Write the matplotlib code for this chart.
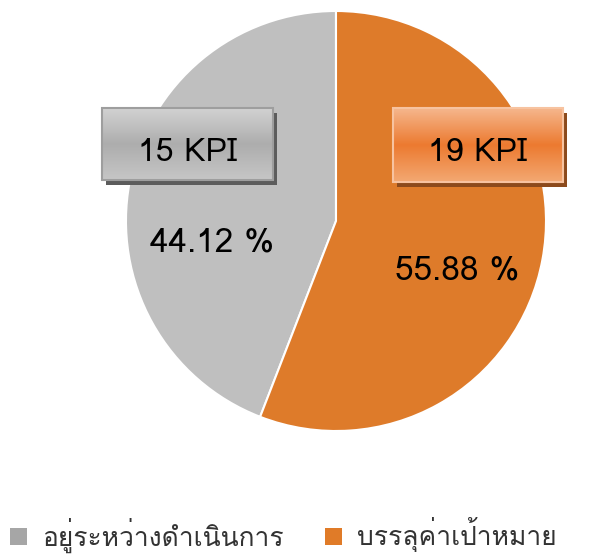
import matplotlib
matplotlib.use("Agg")
import matplotlib.pyplot as plt
import numpy as np
from matplotlib import font_manager
from matplotlib.ft2font import FT2Font
from matplotlib.patches import Rectangle

# data
labels = ["อยู่ระหว่างดำเนินการ", "บรรลุค่าเป้าหมาย"]
kpi_counts = [15, 19]
percents = [44.12, 55.88]
colors = ["#BFBFBF", "#DE7B2A"]
legend_colors = ["#A6A6A6", "#E07B28"]


def find_thai_font():
    found = []
    for f in font_manager.fontManager.ttflist:
        try:
            cmap = FT2Font(f.fname).get_charmap()
        except Exception:
            continue
        if 0x0E2D in cmap and 0x0E14 in cmap:
            found.append(f.name)
    return found


thai_fonts = find_thai_font()
fams = (thai_fonts[:1] if thai_fonts else []) + ["DejaVu Sans"]
plt.rcParams['font.family'] = fams

W, H = 609, 555
fig = plt.figure(figsize=(W / 100, H / 100), dpi=100)
ax = fig.add_axes([0, 0, 1, 1])

def Y(y):  # image row -> data y
    return H - y

ax.pie(kpi_counts, colors=colors, startangle=90, counterclock=True,
       explode=[0.022, 0], center=(336, Y(221)), radius=210,
       wedgeprops=dict(edgecolor='white', linewidth=1.5))


def grad_box(x0, x1, y0, y1, stops, edge, shadow, text):
    # shadow
    ax.add_patch(Rectangle((x0 + 4, Y(y1) - 5), x1 - x0, y1 - y0,
                           facecolor=shadow, edgecolor='none', zorder=3))
    n = 64
    t = np.linspace(0, 1, n)
    pos = np.array([s[0] for s in stops])
    cols = np.array([matplotlib.colors.to_rgb(s[1]) for s in stops])
    img = np.stack([np.interp(t, pos, cols[:, k]) for k in range(3)], axis=-1)
    img = img[:, None, :]
    ax.imshow(img, extent=(x0, x1, Y(y1), Y(y0)), origin='upper',
              aspect='auto', zorder=4, interpolation='bilinear')
    ax.add_patch(Rectangle((x0, Y(y1)), x1 - x0, y1 - y0, facecolor='none',
                           edgecolor=edge, linewidth=1.5, zorder=5))
    ax.text((x0 + x1) / 2, Y(153), text, ha='center', va='center',
            fontsize=23, color='black', zorder=6)


grad_box(102, 273, 108, 180,
         [(0, "#D2D2D2"), (0.5, "#ADADAD"), (1, "#C6C6C6")],
         "#9E9E9E", "#5C5C5C", f"{kpi_counts[0]} KPI")
grad_box(393, 563, 108, 182,
         [(0, "#F5B68C"), (0.5, "#EC7A30"), (1, "#F3A872")],
         "#F7C3A0", "#8C4A1C", f"{kpi_counts[1]} KPI")

ax.text(212, Y(243), f"{percents[0]:.2f} %", ha='center', va='center',
        fontsize=24, color='black')
ax.text(457, Y(271), f"{percents[1]:.2f} %", ha='center', va='center',
        fontsize=24, color='black')

# legend
leg_x = [10, 325]
for lx, lab, c in zip(leg_x, labels, legend_colors):
    ax.add_patch(Rectangle((lx, Y(545)), 17, 17, facecolor=c, edgecolor='none'))
    ax.text(lx + 32, Y(535), lab, ha='left', va='center', fontsize=19,
            color='#333333')

ax.set_xlim(0, W)
ax.set_ylim(0, H)
ax.set_aspect('equal')
ax.axis('off')

fig.savefig("out.png", dpi=100)
